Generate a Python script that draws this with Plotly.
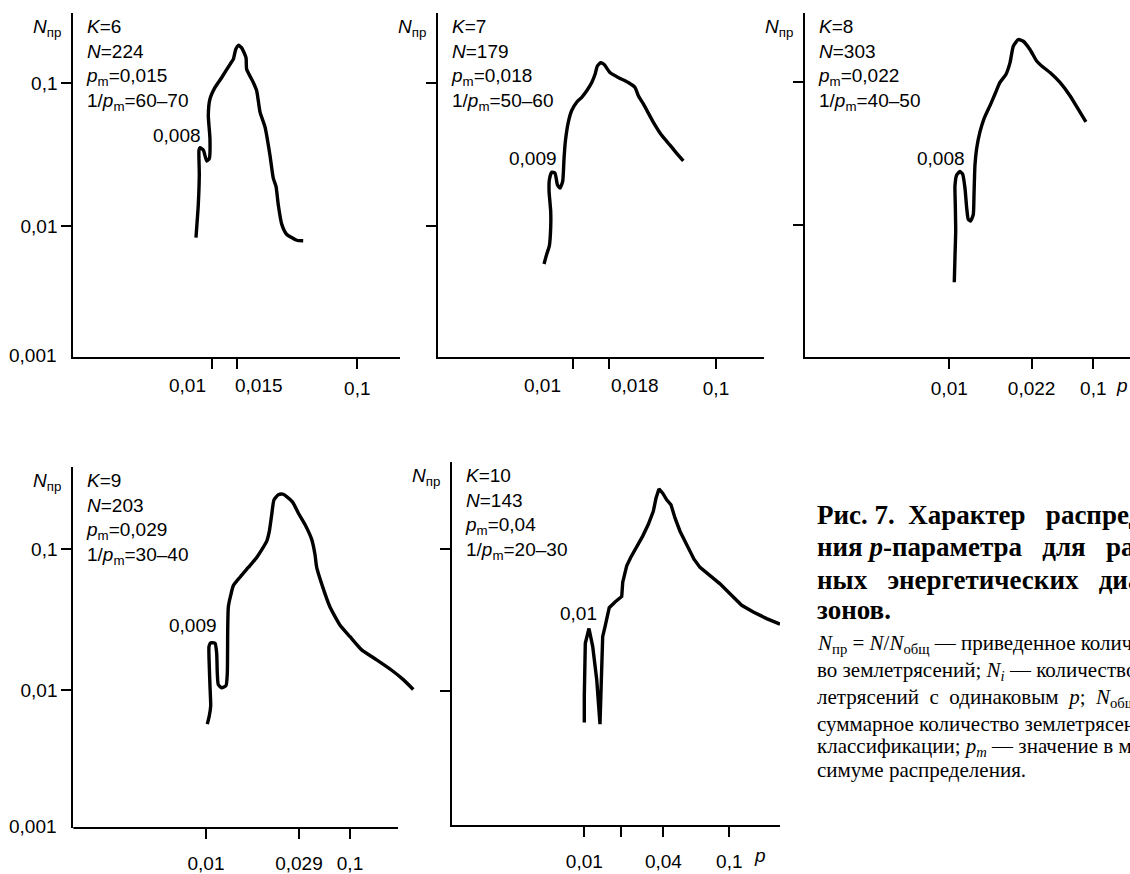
import math
import plotly.graph_objects as go

W, H = 1130, 874

# ---------------- data ----------------
k6_p = [0.00780, 0.00809, 0.00822, 0.00818, 0.00831, 0.00876, 0.00924, 0.00963, 0.00973, 0.00948,
        0.00973, 0.01054, 0.01172, 0.01336, 0.01406, 0.01462, 0.01525, 0.01607, 0.01721, 0.01738,
        0.01931, 0.02037, 0.02148, 0.02324, 0.02513, 0.02648, 0.02766, 0.02865, 0.0303, 0.0327,
        0.0384, 0.0425]
k6_n = [0.0083, 0.0141, 0.0228, 0.0340, 0.0353, 0.0340, 0.0285, 0.0297, 0.0409, 0.0593,
        0.0774, 0.0933, 0.1095, 0.1355, 0.1466, 0.172, 0.184, 0.1767, 0.1507, 0.125,
        0.1011, 0.0885, 0.0626, 0.0493, 0.0313, 0.0216, 0.0189, 0.0141, 0.01026, 0.00875,
        0.00794, 0.00787]

k7_p = [0.00631, 0.00659, 0.00687, 0.00702, 0.00702, 0.00684, 0.00687, 0.00713, 0.00752, 0.00782,
        0.00815, 0.00851, 0.00870, 0.00888, 0.00932, 0.00984, 0.01066, 0.01156, 0.01253, 0.01358,
        0.01432, 0.01486, 0.01567, 0.01652, 0.01820, 0.02080, 0.02443, 0.02722, 0.02871, 0.03112,
        0.03648, 0.04178, 0.04775, 0.05321, 0.05916]
k7_n = [0.00542, 0.00635, 0.00726, 0.00973, 0.0127, 0.0175, 0.0210, 0.0238, 0.0234, 0.0194,
        0.0184, 0.0205, 0.0297, 0.0388, 0.0534, 0.0643, 0.0735, 0.0796, 0.0885, 0.1011,
        0.1154, 0.1318, 0.139, 0.1355, 0.1186, 0.1095, 0.1011, 0.0933, 0.0816, 0.0715,
        0.0534, 0.0431, 0.0368, 0.0322, 0.0285]

k8_p = [0.01083, 0.01095, 0.01108, 0.01101, 0.01095, 0.01125, 0.01186, 0.01239, 0.01285, 0.01321,
        0.01355, 0.01408, 0.01468, 0.01485, 0.01508, 0.01549, 0.01633, 0.01741, 0.01918, 0.02077,
        0.02249, 0.02477, 0.02642, 0.02783, 0.03013, 0.03266, 0.03633, 0.04045, 0.04383, 0.05005,
        0.05871, 0.06891, 0.08087, 0.0889]
k8_n = [0.00397, 0.00593, 0.00908, 0.0139, 0.0187, 0.0224, 0.0237, 0.0227, 0.01816, 0.01318,
        0.01094, 0.01066, 0.01186, 0.01631, 0.02636, 0.0344, 0.0450, 0.0556, 0.0688, 0.0830,
        0.1, 0.1142, 0.1377, 0.1795, 0.200, 0.1945, 0.1703, 0.1413, 0.1304, 0.1173,
        0.1, 0.0807, 0.0619, 0.0528]

k9_p = [0.01021, 0.01054, 0.01078, 0.01066, 0.01054, 0.01049, 0.01078, 0.01155, 0.01186, 0.01198,
        0.01217, 0.01285, 0.01377, 0.01406, 0.01415, 0.01429, 0.01484, 0.01548, 0.01722, 0.01967,
        0.02249, 0.02642, 0.02754, 0.02859, 0.02965, 0.03177, 0.03410, 0.03633, 0.03996, 0.04375,
        0.04870, 0.05420, 0.05710, 0.05871, 0.06357, 0.07261, 0.08531, 0.1, 0.1205, 0.1532,
        0.1948, 0.2345, 0.2752]
k9_n = [0.00573, 0.00656, 0.00773, 0.01067, 0.01476, 0.0204, 0.0217, 0.0215, 0.01828, 0.01324,
        0.01094, 0.01038, 0.01076, 0.01324, 0.02667, 0.0389, 0.0470, 0.0552, 0.0633, 0.0743,
        0.0874, 0.1144, 0.1345, 0.176, 0.2244, 0.2435, 0.2462, 0.2369, 0.2163, 0.1811,
        0.150, 0.1176, 0.0922, 0.0743, 0.0568, 0.0389, 0.0289, 0.02395, 0.0193, 0.0164,
        0.01384, 0.01187, 0.0101]

k10_p = [0.01, 0.01, 0.01016, 0.01077, 0.01143, 0.01218, 0.01283, 0.01318, 0.01339, 0.01389,
         0.01486, 0.01629, 0.01812, 0.01841, 0.01961, 0.02089, 0.02297, 0.02528, 0.0276, 0.02992,
         0.03122, 0.03272, 0.03474, 0.03701, 0.03963, 0.04221, 0.04571, 0.05083, 0.05708, 0.06281,
         0.07362, 0.0863, 0.1011, 0.1218, 0.1464, 0.1811, 0.2238]
k10_n = [0.00594, 0.00914, 0.0216, 0.0275, 0.02047, 0.01193, 0.00578, 0.01193, 0.02404, 0.02825,
         0.0386, 0.0423, 0.0463, 0.0585, 0.0764, 0.0875, 0.1028, 0.124, 0.1497, 0.1855,
         0.2302, 0.2676, 0.2496, 0.2241, 0.2066, 0.1667, 0.1343, 0.1084, 0.0851, 0.0744,
         0.065, 0.0569, 0.0484, 0.0401, 0.036, 0.0323, 0.0295]

# panel parameters (texts)
k_values = ["6", "7", "8", "9", "10"]
n_totals = ["224", "179", "303", "203", "143"]
pm_labels = ["0,015", "0,018", "0,022", "0,029", "0,04"]
inv_pm = ["60–70", "50–60", "40–50", "30–40", "20–30"]
second_peak = ["0,008", "0,009", "0,008", "0,009", "0,01"]
# x tick positions as drawn in the picture and their labels
x_tick_vals = [[0.01, 0.015, 0.1],
               [0.01, 0.018, 0.1],
               [0.01, 0.0373, 0.1],
               [0.01, 0.0442, 0.1],
               [0.01, 0.0178, 0.0351, 0.1]]
x_tick_text = [["0,01", "0,015", "0,1"],
               ["0,01", "0,018", "0,1"],
               ["0,01", "0,022", "0,1"],
               ["0,01", "0,029", "0,1"],
               ["0,01", "", "0,04", "0,1"]]
# how each x label is set against its tick (c = centred, r = ends left of it, l = starts at it)
x_tick_align = [["r", "l", "c"],
                ["r", "l", "c"],
                ["c", "c", "c"],
                ["c", "c", "c"],
                ["c", "c", "c", "c"]]
y_tick_vals = [0.01, 0.1]
y_tick_text = ["0,01", "0,1"]

curves = [(k6_p, k6_n), (k7_p, k7_n), (k8_p, k8_n), (k9_p, k9_n), (k10_p, k10_n)]

# ---------------- layout geometry (pixels) ----------------
boxes = [(73.3, 400, 13, 360.7), (438.3, 764, 13, 360.7), (805, 1130, 13, 360.7),
         (73.3, 415, 471.7, 836.7), (451.7, 780, 466.7, 833.3)]
x_ranges = [[-2.9505, -0.7067], [-2.938, -0.665], [-3.002, -0.745], [-2.9215, -0.5486], [-2.9145, -0.6503]]
y_ranges = [[-2.9175, -0.508], [-2.9175, -0.508], [-2.926, -0.512], [-2.9796, -0.4146], [-2.9502, -0.3812]]
show_y_labels = [True, False, False, True, False]
label_shift = [[-4, -4, 0], [-10, 0, 0], [0, 0, 0], [0, 0, 0], [0, 0, 0, 0]]

SANS = "Liberation Sans, Arial, sans-serif"
SERIF = "Liberation Serif, Times New Roman, serif"
FS = 19


def fx(x):
    return x / W


def fy(y):
    return 1 - y / H


fig = go.Figure()
annotations = []
shapes = []
layout = dict(width=W, height=H, margin=dict(l=0, r=0, t=0, b=0),
              paper_bgcolor="white", plot_bgcolor="white", showlegend=False)

for i in range(5):
    k = i + 1
    xa = "x" if k == 1 else f"x{k}"
    ya = "y" if k == 1 else f"y{k}"
    l, r, t, b = boxes[i]
    p, n = curves[i]
    fig.add_trace(go.Scatter(x=p, y=n, mode="lines", xaxis=xa, yaxis=ya,
                             line=dict(color="black", width=3.4,
                                       shape="spline" if i < 4 else "linear",
                                       smoothing=0.5),
                             hoverinfo="skip"))
    label_y = b + 29
    tick_text = []
    for v, txt, al, sh in zip(x_tick_vals[i], x_tick_text[i], x_tick_align[i], label_shift[i]):
        if al == "c":
            tick_text.append(txt)
        else:
            tick_text.append("")
            annotations.append(dict(text=txt, xref=xa, yref="paper", x=math.log10(v),
                                    y=fy(label_y), xanchor="right" if al == "r" else "left",
                                    yanchor="middle", xshift=sh, showarrow=False,
                                    font=dict(family=SANS, size=FS, color="black")))
    layout["xaxis" if k == 1 else f"xaxis{k}"] = dict(
        type="log", range=x_ranges[i], domain=[fx(l), fx(r)], anchor=ya,
        showline=(i != 3), linecolor="black", linewidth=2,
        ticks="outside", ticklen=10, tickwidth=2, tickcolor="black",
        tickvals=x_tick_vals[i], ticktext=tick_text, tickangle=0,
        ticklabelstandoff=3 if i < 3 else 8,
        tickfont=dict(family=SANS, size=FS, color="black"),
        showgrid=False, zeroline=False, fixedrange=True)
    layout["yaxis" if k == 1 else f"yaxis{k}"] = dict(
        type="log", range=y_ranges[i], domain=[fy(b), fy(t)], anchor=xa,
        showline=True, linecolor="black", linewidth=2,
        ticks="outside", ticklen=10, tickwidth=2, tickcolor="black",
        tickvals=y_tick_vals, tickangle=0,
        ticktext=y_tick_text if show_y_labels[i] else ["", ""],
        tickfont=dict(family=SANS, size=FS, color="black"),
        showgrid=False, zeroline=False, fixedrange=True)

    # axis-name label
    annotations.append(dict(text="<i>N</i><sub>пр</sub>", xref="paper", yref="paper",
                            x=fx(l - 10), y=fy(t + 15), xanchor="right", yanchor="middle",
                            showarrow=False, font=dict(family=SANS, size=FS, color="black")))
    # info block
    info = (f"<i>K</i>={k_values[i]}<br><i>N</i>={n_totals[i]}<br>"
            f"<i>p</i><sub>m</sub>={pm_labels[i]}<br>1/<i>p</i><sub>m</sub>={inv_pm[i]}")
    annotations.append(dict(text=info, xref="paper", yref="paper", align="left",
                            x=fx(l + 11), y=fy(t + 1), xanchor="left", yanchor="top",
                            showarrow=False, font=dict(family=SANS, size=FS, color="black")))

# panel 4 x-axis line stops before the curve end
shapes.append(dict(type="line", xref="x4 domain", yref="y4 domain",
                   x0=0, x1=(398 - 73.3) / (415 - 73.3), y0=0, y1=0,
                   line=dict(color="black", width=2)))

# secondary-peak labels
peak_pos = [(203, 137), (559, 160), (967, 160), (219, 632), (599, 620)]
for i, (x, y) in enumerate(peak_pos):
    annotations.append(dict(text=second_peak[i], xref="paper", yref="paper",
                            x=fx(x), y=fy(y), xanchor="right", yanchor="middle",
                            showarrow=False, font=dict(family=SANS, size=FS, color="black")))

# 0,001 labels at origin
for (x, y) in [(59, 359), (59, 835)]:
    annotations.append(dict(text="0,001", xref="paper", yref="paper",
                            x=fx(x), y=fy(y), xanchor="right", yanchor="middle",
                            showarrow=False, font=dict(family=SANS, size=FS, color="black")))

# axis variable "p"
for (x, y) in [(1114, 390), (752, 864)]:
    annotations.append(dict(text="<i>p</i>", xref="paper", yref="paper",
                            x=fx(x), y=fy(y), xanchor="left", yanchor="middle",
                            showarrow=False, font=dict(family=SANS, size=FS, color="black")))

# caption
NB = "\u00a0"
cap_lines = [
    f"Рис.{NB}7.{NB}{NB}Характер{NB}{NB}{NB}распределе-",
    f"ния{NB}<i>p</i>-параметра{NB}{NB}{NB}для{NB}{NB}{NB}раз-",
    f"ных{NB}{NB}{NB}энергетических{NB}{NB}{NB}диапа-",
    "зонов.",
]
cap_y = [520, 553, 586, 616]
for line, y in zip(cap_lines, cap_y):
    annotations.append(dict(text=f"<b>{line}</b>", xref="paper", yref="paper",
                            x=fx(815), y=fy(y), xanchor="left", yanchor="middle",
                            showarrow=False, font=dict(family=SERIF, size=27, color="black")))

note_lines = [
    "<i>N</i><sub>пр</sub> = <i>N</i>/<i>N</i><sub>общ</sub> — приведенное количест-",
    "во землетрясений; <i>N<sub>i</sub></i> — количество зем-",
    f"летрясений{NB}{NB}с{NB}{NB}одинаковым{NB}{NB}<i>p</i>;{NB}{NB}<i>N</i><sub>общ</sub> —",
    "суммарное количество землетрясений в",
    "классификации; <i>p<sub>m</sub></i> — значение в мак-",
    "симуме распределения.",
]
note_y = [651, 678, 705, 732, 755, 778]
for line, y in zip(note_lines, note_y):
    annotations.append(dict(text=line, xref="paper", yref="paper",
                            x=fx(815), y=fy(y), xanchor="left", yanchor="middle",
                            showarrow=False, font=dict(family=SERIF, size=21, color="black")))

layout["annotations"] = annotations
layout["shapes"] = shapes
fig.update_layout(**layout)

fig.write_html("out.html", config={"displayModeBar": False},
               post_script=("document.body.style.margin='0';"
                            "var gd=document.getElementById('{plot_id}');"
                            "gd.style.overflow='hidden';"
                            "var sc=gd.querySelector('.svg-container');"
                            "if(sc){sc.style.overflow='hidden';}"))
